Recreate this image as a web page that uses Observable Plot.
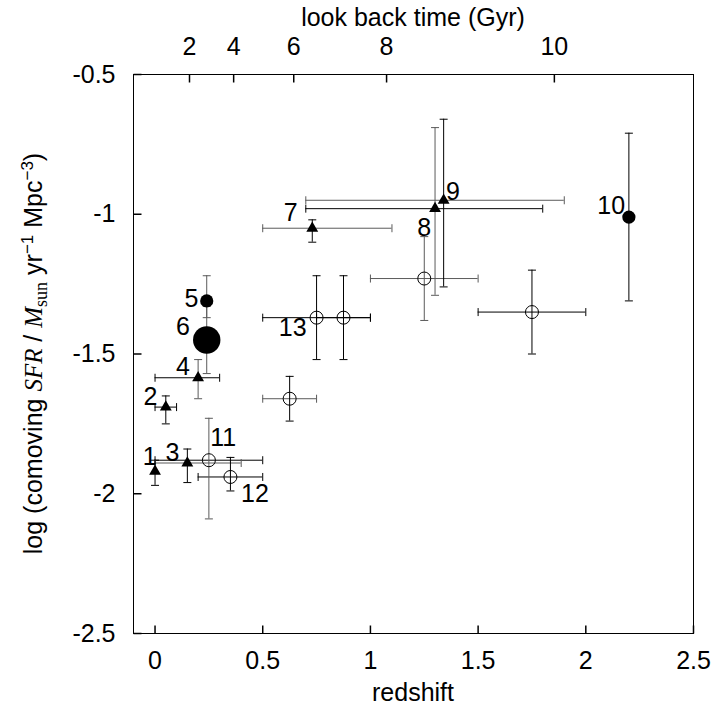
<!DOCTYPE html>
<html>
<head>
<meta charset="utf-8">
<script src="https://cdn.jsdelivr.net/npm/d3@7"></script>
<script src="https://cdn.jsdelivr.net/npm/@observablehq/plot@0.6"></script>
<style>
  html, body { margin: 0; padding: 0; background: #fff; }
  #chart svg { display: block; }
</style>
</head>
<body>
<div id="chart"></div>
<script>
// ---------- data ----------
const pointZ     = [0, 0.05, 0.15, 0.2, 0.24, 0.24, 0.73, 1.3, 1.34, 2.2, 0.25, 0.35, 0.75, 0.875, 0.625, 1.25, 1.75];
const pointSFR   = [-1.92, -1.69, -1.89, -1.585, -1.31, -1.45, -1.05, -0.98, -0.95, -1.01, -1.88, -1.94, -1.37, -1.37, -1.66, -1.23, -1.35];
const markerKind = ["triangle","triangle","triangle","triangle","filled","large","triangle","triangle","triangle","filled","open","open","open","open","open","open","open"];
const zLow       = [null, 0, 0, 0, null, null, 0.5, 0.7, 0.7, null, 0, 0.2, 0.5, 0.75, 0.5, 1.0, 1.5];
const zHigh      = [null, 0.1, 0.4, 0.3, null, null, 1.1, 1.8, 1.9, null, 0.5, 0.5, 1.0, 1.0, 0.75, 1.5, 2.0];
const sfrLow     = [-1.97, -1.75, -1.96, -1.66, -1.37, -1.57, -1.10, -1.29, -1.26, -1.31, -2.09, -1.99, -1.52, -1.52, -1.74, -1.38, -1.50];
const sfrHigh    = [-1.88, -1.65, -1.84, -1.52, -1.22, -1.33, -1.02, -0.69, -0.66, -0.71, -1.73, -1.87, -1.22, -1.22, -1.58, -1.08, -1.20];
const zBarGroup  = ["", "A", "B", "A", "", "", "B", "A", "B", "", "A", "A", "A", "A", "B", "B", "A"];
const sfrBarGroup= ["A","A","A","B","B","B","A","B","A","A","B","A","A","A","A","B","A"];

const labelText = ["1","2","3","4","5","6","7","8","9","10","11","12","13"];
const labelZ    = [-0.025, -0.021, 0.081, 0.130, 0.169, 0.130, 0.630, 1.250, 1.383, 2.118, 0.316, 0.464, 0.639];
const labelSFR  = [-1.869, -1.655, -1.853, -1.547, -1.302, -1.402, -0.996, -1.048, -0.921, -0.969, -1.800, -2.000, -1.408];

const redshiftTicks    = [0, 0.5, 1, 1.5, 2, 2.5];
const sfrTicks         = [-0.5, -1, -1.5, -2, -2.5];
const lookbackGyr      = [2, 4, 6, 8, 10];
const lookbackRedshift = [0.16, 0.365, 0.644, 1.075, 1.854];

const xDomain = [-0.1, 2.5];
const yDomain = [-2.5, -0.5];

// ---------- build tables ----------
const points = pointZ.map((z, i) => ({
  z, sfr: pointSFR[i], kind: markerKind[i],
  zLo: zLow[i], zHi: zHigh[i], sLo: sfrLow[i], sHi: sfrHigh[i],
  zg: zBarGroup[i], sg: sfrBarGroup[i]
}));
const hBars = points.filter(d => d.zLo != null);
const vCapsData = points.flatMap(d => [{z: d.z, s: d.sLo, g: d.sg}, {z: d.z, s: d.sHi, g: d.sg}]);
const hCapsData = hBars.flatMap(d => [{z: d.zLo, s: d.sfr, g: d.zg}, {z: d.zHi, s: d.sfr, g: d.zg}]);
const labels = labelText.map((t, i) => ({t, z: labelZ[i], s: labelSFR[i]}));

const TICK = 8;
const capH = {draw(ctx, size) { const r = Math.sqrt(size / Math.PI); ctx.moveTo(-r, 0); ctx.lineTo(r, 0); }};
const capV = {draw(ctx, size) { const r = Math.sqrt(size / Math.PI); ctx.moveTo(0, -r); ctx.lineTo(0, r); }};
const tickUp    = {draw(ctx) { ctx.moveTo(0, 0); ctx.lineTo(0, -TICK); }};
const tickDown  = {draw(ctx) { ctx.moveTo(0, 0); ctx.lineTo(0, TICK); }};
const tickRight = {draw(ctx) { ctx.moveTo(0, 0); ctx.lineTo(TICK, 0); }};

const SANS = "'Liberation Sans', Arial, Helvetica, sans-serif";
const SERIF = "'Liberation Serif', 'Times New Roman', Times, serif";
const FS = 25;

const plot = Plot.plot({
  width: 711,
  height: 715,
  marginLeft: 133,
  marginRight: 18,
  marginTop: 74,
  marginBottom: 82,
  style: {fontFamily: SANS, fontSize: FS + "px", background: "#fff", color: "#000", overflow: "visible"},
  x: {domain: xDomain},
  y: {domain: yDomain},
  color: {domain: ["A", "B"], range: ["#000000", "#5a5a5a"]},
  marks: [
    Plot.frame({stroke: "#000"}),
    Plot.axisX(redshiftTicks, {anchor: "bottom", tickSize: 0, tickPadding: 18, label: null, tickFormat: d => String(d)}),
    Plot.axisX(lookbackRedshift, {anchor: "top", tickSize: 0, tickPadding: 20, label: null,
      tickFormat: d => String(lookbackGyr[lookbackRedshift.indexOf(d)])}),
    Plot.axisY(sfrTicks, {anchor: "left", tickSize: 0, tickPadding: 18, label: null, tickFormat: d => String(d)}),
    // inward tick marks
    Plot.dot(redshiftTicks, {x: d => d, y: () => yDomain[0], symbol: tickUp, r: 1, stroke: "#000", fill: "none"}),
    Plot.dot(lookbackRedshift, {x: d => d, y: () => yDomain[1], symbol: tickDown, r: 1, stroke: "#000", fill: "none"}),
    Plot.dot(sfrTicks, {x: () => xDomain[0], y: d => d, symbol: tickRight, r: 1, stroke: "#000", fill: "none"}),
    // error bars
    Plot.ruleY(hBars, {y: "sfr", x1: "zLo", x2: "zHi", stroke: "zg", strokeWidth: 1}),
    Plot.ruleX(points, {x: "z", y1: "sLo", y2: "sHi", stroke: "sg", strokeWidth: 1}),
    Plot.dot(vCapsData, {x: "z", y: "s", symbol: capH, r: 4, stroke: "g", fill: "none", strokeWidth: 1}),
    Plot.dot(hCapsData, {x: "z", y: "s", symbol: capV, r: 4, stroke: "g", fill: "none", strokeWidth: 1}),
    // markers
    Plot.dot(points.filter(d => d.kind === "open"), {x: "z", y: "sfr", r: 6.5, stroke: "#000", fill: "none", strokeWidth: 1}),
    Plot.dot(points.filter(d => d.kind === "triangle"), {x: "z", y: "sfr", symbol: "triangle", r: 4.4, fill: "#000", stroke: "none"}),
    Plot.dot(points.filter(d => d.kind === "filled"), {x: "z", y: "sfr", r: 6.6, fill: "#000", stroke: "none"}),
    Plot.dot(points.filter(d => d.kind === "large"), {x: "z", y: "sfr", r: 13.7, fill: "#000", stroke: "none"}),
    // point labels
    Plot.text(labels, {x: "z", y: "s", text: "t", fill: "#000", fontSize: FS})
  ]
});

document.getElementById("chart").appendChild(plot);

// ---------- axis titles ----------
const svg = d3.select(plot);
const xr = plot.scale("x").range;
const yr = plot.scale("y").range;
const cx = (xr[0] + xr[1]) / 2;
const cy = (yr[0] + yr[1]) / 2;

svg.append("text")
  .attr("x", cx).attr("y", 26)
  .attr("text-anchor", "middle")
  .style("font-family", SANS).style("font-size", FS + "px").attr("fill", "#000")
  .text("look back time (Gyr)");

svg.append("text")
  .attr("x", cx).attr("y", 701)
  .attr("text-anchor", "middle")
  .style("font-family", SANS).style("font-size", FS + "px").attr("fill", "#000")
  .text("redshift");

const yl = svg.append("text")
  .attr("transform", `translate(42,${cy}) rotate(-90)`)
  .attr("text-anchor", "middle")
  .style("font-family", SANS).style("font-size", FS + "px").attr("fill", "#000");
yl.append("tspan").text("log (comoving ");
yl.append("tspan").style("font-family", SERIF).style("font-style", "italic").text("SFR");
yl.append("tspan").text(" / ");
yl.append("tspan").style("font-family", SERIF).style("font-style", "italic").text("M");
yl.append("tspan").style("font-family", SERIF).style("font-size", "18px").attr("dy", 5).text("sun");
yl.append("tspan").attr("dy", -5).text(" yr");
yl.append("tspan").style("font-size", "17px").attr("dy", -9).text("\u22121");
yl.append("tspan").attr("dy", 9).text(" Mpc");
yl.append("tspan").style("font-size", "17px").attr("dy", -9).text("\u22123");
yl.append("tspan").attr("dy", 9).text(")");
</script>
</body>
</html>
